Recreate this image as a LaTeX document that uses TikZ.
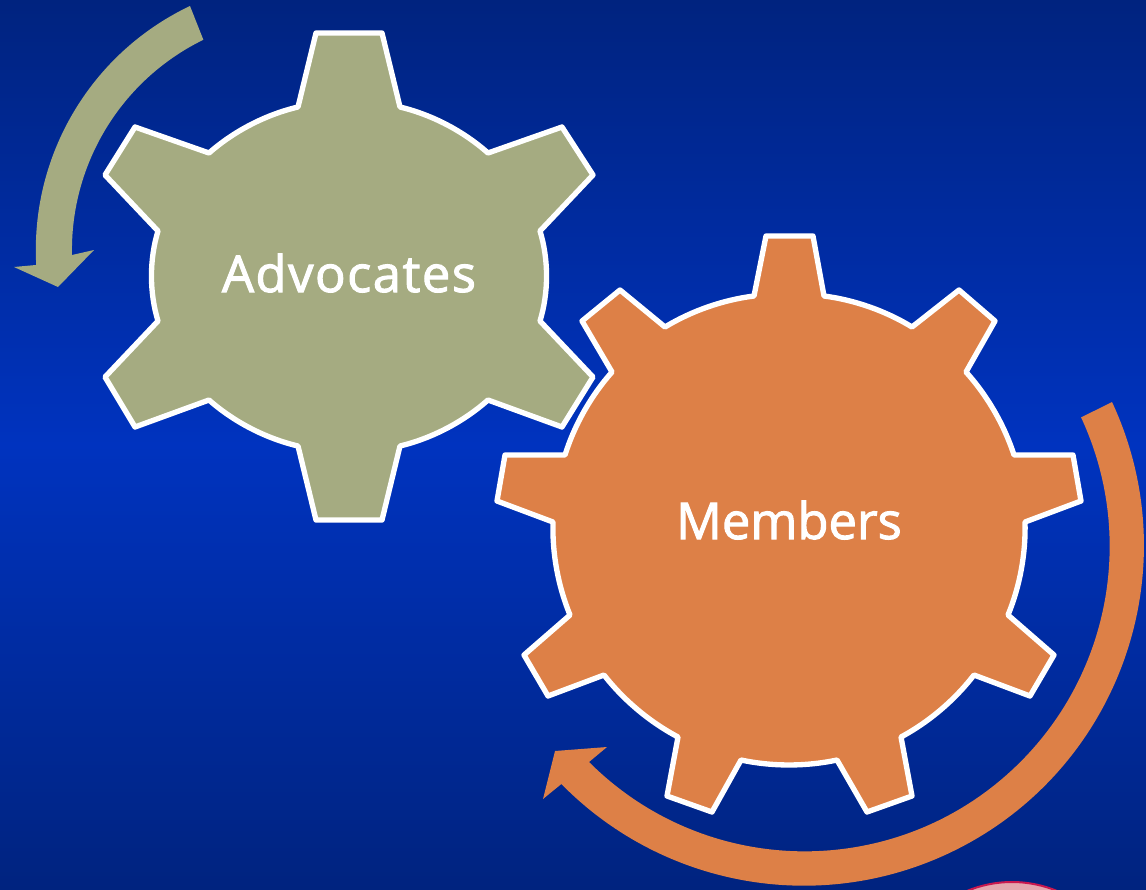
\documentclass[tikz,border=0pt]{standalone}
\usepackage{fontspec}
\setmainfont{Open Sans}
\newfontfamily\gearfont[FakeBold=2]{Open Sans}
\definecolor{olivegear}{HTML}{A5AB81}
\definecolor{orangegear}{HTML}{DD8047}
\definecolor{bgA}{HTML}{00237F}
\definecolor{bgB}{HTML}{0033BF}
\definecolor{pinkrim}{HTML}{C8184F}
\definecolor{pinkfill}{HTML}{E4A6AE}
\tikzset{
  gear/.style={draw=white,line width=4pt,line join=round,looseness=0.85},
  gearlabel/.style={text=white,font=\fontsize{38}{44}\selectfont\gearfont},
}
\begin{document}
\begin{tikzpicture}[x=0.75pt,y=-0.75pt]
\useasboundingbox (0,0) rectangle (1146,889);
\shade[top color=bgA,bottom color=bgB] (0,0) rectangle (1146,445);
\shade[top color=bgB,bottom color=bgA] (0,445) rectangle (1146,889);
% pink ball
\begin{scope}
\clip (0,0) rectangle (1146,889);
\fill[pinkfill,draw=pinkrim,line width=1.5pt] (1012,999) circle (117);
\end{scope}
% olive arrow
\fill[olivegear] (190,6) arc[start angle=244.6,end angle=176.8,radius=270] -- (14,267) -- (58,287) -- (94,250) -- (72,255)
  arc[start angle=178.8,end angle=244,radius=234] -- cycle;
% orange arrow
\fill[orangegear] (1112,402) arc[start angle=-25,end angle=135.5,radius=340] -- (543,799) -- (555,751) -- (607,747) -- (589,762)
  arc[start angle=135,end angle=-25,radius=305] -- cycle;
% advocates gear
\filldraw[gear,fill=olivegear] (298,107) -- (316,33) -- (382,33) -- (400,107) to[bend left=14] (488,153)
  -- (562,127) -- (593,175) -- (540,231) to[bend left=17] (540,321)
  -- (593,377) -- (562,427) -- (488,400) to[bend left=14] (400,446)
  -- (382,520) -- (316,520) -- (298,446) to[bend left=14] (209,400)
  -- (135,427) -- (105,377) -- (158,321) to[bend left=17] (158,231)
  -- (105,175) -- (135,127) -- (209,153) to[bend left=14] (298,107) -- cycle;
% members gear
\filldraw[gear,fill=orangegear] (754,296) -- (766,236) -- (813,236) -- (824,296) to[bend left=12] (912,327)
  -- (959,290) -- (995,321) -- (966,372) to[bend left=12] (1014,455)
  -- (1073,455) -- (1081,501) -- (1025,522) to[bend left=12] (1008,615)
  -- (1054,655) -- (1030,696) -- (974,675) to[bend left=12] (901,737)
  -- (912,796) -- (867,812) -- (837,760) to[bend left=12] (741,760)
  -- (712,812) -- (667,796) -- (678,737) to[bend left=12] (604,675)
  -- (548,696) -- (524,655) -- (570,615) to[bend left=12] (553,522)
  -- (497,501) -- (505,455) -- (565,455) to[bend left=12] (612,372)
  -- (582,321) -- (620,290) -- (665,327) to[bend left=12] (754,296) -- cycle;
\node[gearlabel] (adv) at (349,273) {\addfontfeature{LetterSpace=3}Advocates};
\node[gearlabel] (mem) at (789,520) {Members};
\end{tikzpicture}
\end{document}
